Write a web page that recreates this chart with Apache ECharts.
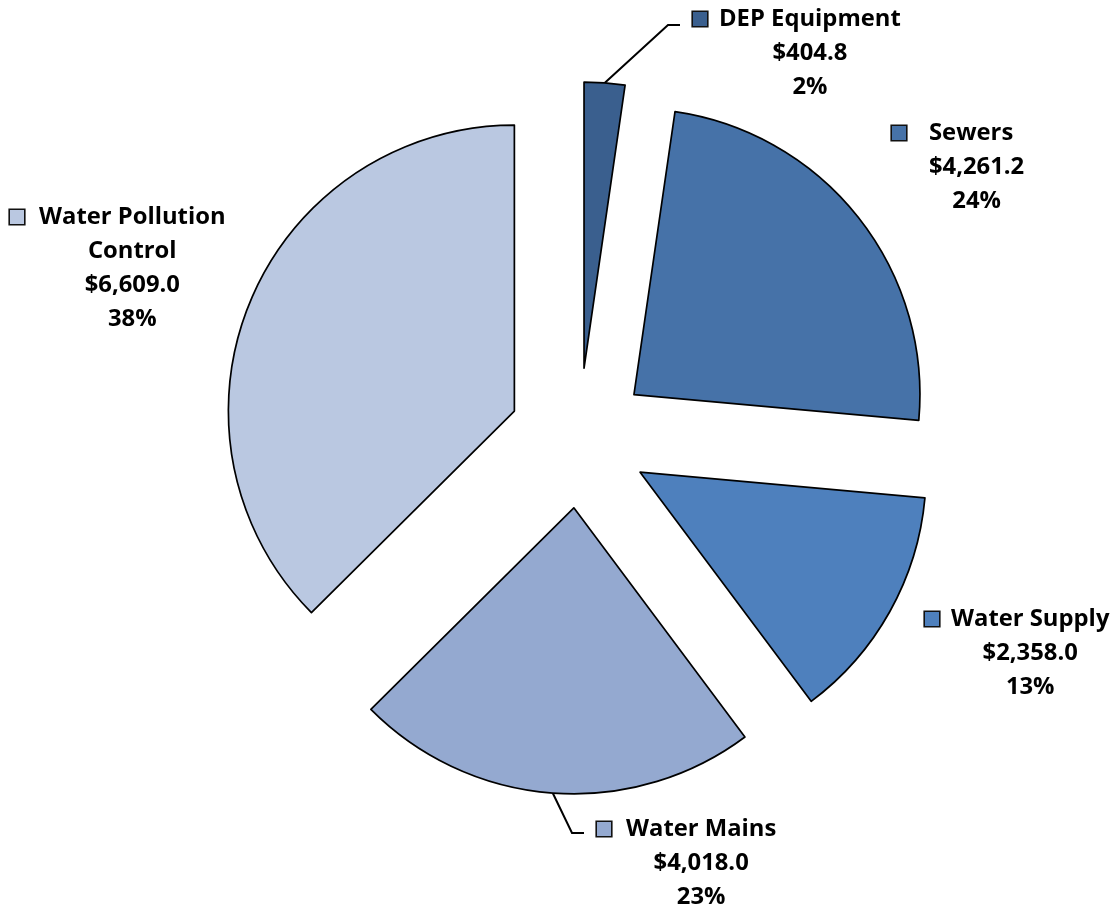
<!DOCTYPE html>
<html><head><meta charset="utf-8">
<script src="https://cdn.jsdelivr.net/npm/echarts@6/dist/echarts.min.js"></script>
<style>html,body{margin:0;padding:0;background:#fff}#c{width:1117px;height:911px}</style>
</head><body><div id="c"></div>
<script>
const categories = ['DEP Equipment', 'Sewers', 'Water Supply', 'Water Mains', 'Water Pollution Control'];
const nameLines = [['DEP Equipment'], ['Sewers'], ['Water Supply'], ['Water Mains'], ['Water Pollution', 'Control']];
const values = [404.8, 4261.2, 2358.0, 4018.0, 6609.0];
const percentLabels = ['2%', '24%', '13%', '23%', '38%'];

// styles / layout (kept separate from data)
const colors = ['#3A5F8E', '#4672A8', '#4E80BD', '#94A9D0', '#BAC8E1'];
const labelPos = [[693, 2], [892, 116], [925, 602], [597, 812], [10, 200]];
const keyGap = [12, 23, 12, 15, 15];
const showLine = [true, false, false, true, false];
const CENTER = [579, 438];
const RADIUS = 286;
const OFFSET = 70;
const KEY = 14;
const FONT = 'Open Sans';
const FS = 23.8;

const chart = echarts.init(document.getElementById('c'), null, {renderer: 'canvas'});

const rich = {};
values.forEach((v, i) => {
  rich['k' + i] = {width: KEY, height: KEY, backgroundColor: colors[i], borderColor: '#111', borderWidth: 1.6, lineHeight: 34};
  rich['g' + i] = {width: keyGap[i], lineHeight: 34};
  rich['v' + i] = {align: 'center', padding: [0, 0, 0, KEY + keyGap[i]], lineHeight: 34,
    fontFamily: FONT, fontWeight: 'bold', fontSize: FS, color: '#000'};
});
rich.n = {fontFamily: FONT, fontWeight: 'bold', fontSize: FS, color: '#000', lineHeight: 34};

function fmtMoney(v) {
  return '$' + v.toLocaleString('en-US', {minimumFractionDigits: 1, maximumFractionDigits: 1});
}

const sliceData = values.map((v, i) => ({
  name: categories[i], value: v, selected: true,
  itemStyle: {color: colors[i]}
}));
const labelData = values.map((v, i) => ({
  name: categories[i], value: v,
  labelLine: {show: showLine[i]}
}));

chart.setOption({
  animation: false,
  backgroundColor: '#fff',
  series: [{
    type: 'pie',
    center: CENTER,
    radius: RADIUS,
    startAngle: 90,
    clockwise: true,
    selectedMode: 'multiple',
    selectedOffset: OFFSET,
    silent: true,
    itemStyle: {borderColor: '#000', borderWidth: 1.7},
    emphasis: {disabled: true},
    select: {itemStyle: {borderColor: '#000', borderWidth: 1.7}},
    label: {show: false},
    labelLine: {show: false},
    data: sliceData
  }, {
    type: 'pie',
    center: CENTER,
    radius: RADIUS,
    startAngle: 90,
    clockwise: true,
    silent: true,
    z: 1,
    avoidLabelOverlap: false,
    itemStyle: {color: 'rgba(0,0,0,0)', borderWidth: 0},
    emphasis: {disabled: true},
    label: {
      show: true,
      position: 'outside',
      formatter: p => {
        const i = p.dataIndex;
        const lines = nameLines[i];
        let s = '{k' + i + '|}{g' + i + '|}{n|' + lines[0] + '}';
        for (let j = 1; j < lines.length; j++) s += '\n{v' + i + '|' + lines[j] + '}';
        s += '\n{v' + i + '|' + fmtMoney(values[i]) + '}';
        s += '\n{v' + i + '|' + percentLabels[i] + '}';
        return s;
      },
      rich: rich
    },
    labelLine: {lineStyle: {color: '#000', width: 2}, length: 20, length2: 10},
    labelLayout: params => {
      const i = params.dataIndex;
      const x = labelPos[i][0], y = labelPos[i][1];
      const res = {x: x, y: y, align: 'left', verticalAlign: 'top'};
      if (showLine[i] && params.labelLinePoints) {
        const p0 = params.labelLinePoints[0];
        const dx = p0[0] - CENTER[0], dy = p0[1] - CENTER[1];
        const d = Math.sqrt(dx * dx + dy * dy) || 1;
        const start = [p0[0] + OFFSET * dx / d, p0[1] + OFFSET * dy / d];
        const ly = i === 0 ? y + 23 : y + 21;
        res.labelLinePoints = [start, [x - 25, ly], [x - 13, ly]];
      }
      return res;
    },
    data: labelData
  }]
});
</script>
</body></html>
